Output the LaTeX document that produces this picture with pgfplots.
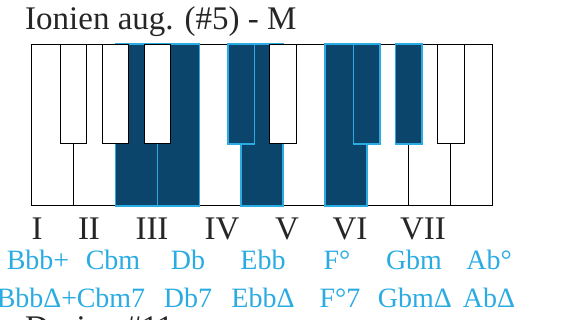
\documentclass[border=0pt]{standalone}
\usepackage{pgfplots}
\pgfplotsset{compat=1.18}
\usepackage{fontspec}
\setmainfont{Liberation Serif}
\definecolor{keydark}{HTML}{0B456B}
\definecolor{keyblue}{HTML}{2AABE2}
\begin{document}
\begin{tikzpicture}
\begin{axis}[scale only axis, width=563pt, height=320pt,
  xmin=0, xmax=563, ymin=0, ymax=320, y dir=reverse,
  axis lines=none, clip=false]
% plain white keys
\addplot[draw=black, line width=1pt, fill=white] coordinates {(31.7,44.3) (73.6,44.3) (73.6,206) (31.7,206)} -- cycle;
\addplot[draw=black, line width=1pt, fill=white] coordinates {(73.6,44.3) (115.5,44.3) (115.5,206) (73.6,206)} -- cycle;
\addplot[draw=black, line width=1pt, fill=white] coordinates {(199.3,44.3) (241.2,44.3) (241.2,206) (199.3,206)} -- cycle;
\addplot[draw=black, line width=1pt, fill=white] coordinates {(283.1,44.3) (325.0,44.3) (325.0,206) (283.1,206)} -- cycle;
\addplot[draw=black, line width=1pt, fill=white] coordinates {(366.9,44.3) (408.8,44.3) (408.8,206) (366.9,206)} -- cycle;
\addplot[draw=black, line width=1pt, fill=white] coordinates {(408.8,44.3) (450.7,44.3) (450.7,206) (408.8,206)} -- cycle;
\addplot[draw=black, line width=1pt, fill=white] coordinates {(450.7,44.3) (492.6,44.3) (492.6,206) (450.7,206)} -- cycle;
% highlighted white keys
\addplot[draw=keyblue, line width=1.6pt, fill=keydark] coordinates {(115.5,44.3) (157.4,44.3) (157.4,206) (115.5,206)} -- cycle;
\addplot[draw=keyblue, line width=1.6pt, fill=keydark] coordinates {(157.4,44.3) (199.3,44.3) (199.3,206) (157.4,206)} -- cycle;
\addplot[draw=keyblue, line width=1.6pt, fill=keydark] coordinates {(241.2,44.3) (283.1,44.3) (283.1,206) (241.2,206)} -- cycle;
\addplot[draw=keyblue, line width=1.6pt, fill=keydark] coordinates {(325.0,44.3) (366.9,44.3) (366.9,206) (325.0,206)} -- cycle;
% plain black keys (drawn white)
\addplot[draw=black, line width=1pt, fill=white] coordinates {(60.3,44.3) (86.9,44.3) (86.9,144) (60.3,144)} -- cycle;
\addplot[draw=black, line width=1pt, fill=white] coordinates {(102.2,44.3) (128.8,44.3) (128.8,144) (102.2,144)} -- cycle;
\addplot[draw=black, line width=1pt, fill=white] coordinates {(144.1,44.3) (170.7,44.3) (170.7,144) (144.1,144)} -- cycle;
\addplot[draw=black, line width=1pt, fill=white] coordinates {(269.8,44.3) (296.4,44.3) (296.4,144) (269.8,144)} -- cycle;
\addplot[draw=black, line width=1pt, fill=white] coordinates {(437.4,44.3) (464.0,44.3) (464.0,144) (437.4,144)} -- cycle;
% highlighted black keys
\addplot[draw=keyblue, line width=1.6pt, fill=keydark] coordinates {(227.9,44.3) (254.5,44.3) (254.5,144) (227.9,144)} -- cycle;
\addplot[draw=keyblue, line width=1.6pt, fill=keydark] coordinates {(353.6,44.3) (380.2,44.3) (380.2,144) (353.6,144)} -- cycle;
\addplot[draw=keyblue, line width=1.6pt, fill=keydark] coordinates {(395.5,44.3) (422.1,44.3) (422.1,144) (395.5,144)} -- cycle;
% texts
\node[anchor=base west, inner sep=0pt, font=\fontsize{33}{36}\selectfont, text=black!85] at (axis cs:25,30) {Ionien aug. (\#5) - M};
\node[anchor=base west, inner sep=0pt, font=\fontsize{33}{36}\selectfont, text=black!85] at (axis cs:25,339) {Dorien \#11};
\begin{scope}[every node/.style={anchor=base, inner sep=0pt, font=\fontsize{33}{36}\selectfont, text=black!85}]
\node at (axis cs:37,240) {I};
\node at (axis cs:89,240) {II};
\node at (axis cs:152,240) {III};
\node at (axis cs:222,240) {IV};
\node at (axis cs:287,240) {V};
\node at (axis cs:350,240) {VI};
\node at (axis cs:423,240) {VII};
\end{scope}
\begin{scope}[every node/.style={anchor=base, inner sep=0pt, font=\fontsize{28}{31}\selectfont, text=keyblue}]
\node at (axis cs:38,270) {Bbb+};
\node at (axis cs:113,270) {Cbm};
\node at (axis cs:188,270) {Db};
\node at (axis cs:263,270) {Ebb};
\node at (axis cs:337,270) {F°};
\node at (axis cs:414,270) {Gbm};
\node at (axis cs:489,270) {Ab°};
\node at (axis cs:37,308) {BbbΔ+};
\node at (axis cs:111,308) {Cbm7};
\node at (axis cs:188,308) {Db7};
\node at (axis cs:263,308) {EbbΔ};
\node at (axis cs:340,308) {F°7};
\node at (axis cs:415,308) {GbmΔ};
\node at (axis cs:489,308) {AbΔ};
\end{scope}
\end{axis}
\pgfresetboundingbox
\path (current axis.south west) rectangle (current axis.north east);
\end{tikzpicture}
\end{document}
